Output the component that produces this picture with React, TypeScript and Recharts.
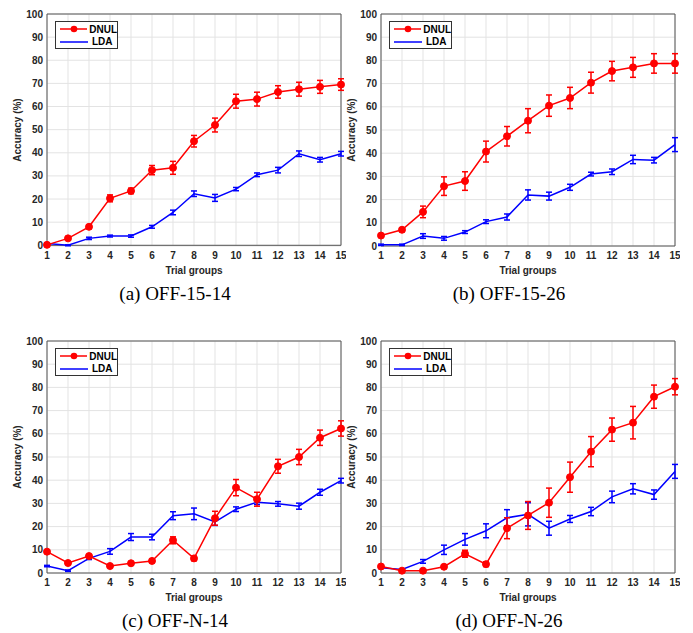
import React from 'react';
import { LineChart, Line, XAxis, YAxis, CartesianGrid, ErrorBar, Legend, ReferenceArea } from 'recharts';

const trials = [1, 2, 3, 4, 5, 6, 7, 8, 9, 10, 11, 12, 13, 14, 15];
const yTicks = [0, 10, 20, 30, 40, 50, 60, 70, 80, 90, 100];

// (a) OFF-15-14
const aDnul = [0.2, 3, 8, 20.3, 23.5, 32.5, 33.5, 45, 52, 62.3, 63.2, 66.3, 67.5, 68.5, 69.5];
const aDnulErr = [0.5, 0.6, 0.8, 1.5, 1.2, 2, 2.8, 2.5, 3, 3, 3, 2.7, 3, 2.8, 2.5];
const aLda = [0.8, 0, 3, 4, 4, 8, 14.2, 22.3, 20.5, 24.3, 30.5, 32.5, 39.6, 37, 39.6];
const aLdaErr = [0.3, 0.2, 0.5, 0.4, 0.5, 0.6, 1, 1.2, 1.5, 0.7, 0.8, 1.2, 1.2, 1, 1];

// (b) OFF-15-26
const bDnul = [4.5, 7, 14.7, 25.8, 28, 40.7, 47.3, 54, 60.5, 63.8, 70.4, 75.4, 77, 78.7, 78.7];
const bDnulErr = [0.7, 0.8, 2.5, 4, 4, 4.5, 4.2, 5.2, 4.6, 4.6, 4.5, 4.2, 4.3, 4.2, 4.2];
const bLda = [0.5, 0.5, 4.3, 3.3, 6, 10.5, 12.5, 22, 21.5, 25.3, 31, 32, 37.3, 37, 43.7];
const bLdaErr = [0.3, 0.3, 1, 0.8, 0.6, 0.8, 1.3, 2.2, 1.7, 1.3, 0.8, 1.2, 1.8, 1.2, 3];

// (c) OFF-N-14
const cDnul = [9.2, 4.3, 7.3, 3, 4.2, 5.2, 14.1, 6.3, 23.6, 36.8, 31.8, 46, 50, 58.3, 62.3];
const cDnulErr = [0.5, 0.5, 0.6, 0.5, 0.5, 0.8, 1.5, 1, 3, 3.5, 3, 3, 3.3, 3.3, 3.3];
const cLda = [3, 1, 6.3, 9.3, 15.5, 15.5, 24.7, 25.5, 22, 27.5, 30.5, 29.8, 28.8, 34.8, 39.8];
const cLdaErr = [0.3, 0.3, 0.5, 1.2, 1.5, 1.2, 1.7, 2.5, 1.5, 1, 1, 1, 1.3, 1.3, 1];

// (d) OFF-N-26
const dDnul = [2.8, 1, 1, 2.7, 8.3, 3.8, 19.3, 24.8, 30.3, 41.3, 52.3, 61.8, 64.8, 76, 80.3];
const dDnulErr = [0.5, 0.4, 0.4, 0.5, 1.5, 1, 4.5, 6, 6.3, 6.5, 6.5, 5, 7, 5, 3.5];
const dLda = [2.3, 1.5, 5, 10, 14.5, 18.2, 23.8, 25.3, 19.3, 23.3, 26.5, 32.8, 36.3, 33.8, 43.8];
const dLdaErr = [0.3, 0.3, 0.8, 2, 2.5, 3, 3.5, 5, 3, 1.5, 1.8, 2.5, 2.2, 2, 3];

const RED = '#ff0000';
const BLUE = '#0000ff';
const AXIS_TEXT = '#262626';
const SANS = '"Liberation Sans", Arial, sans-serif';

function LegendBox() {
    const row = (color: string, label: string, dot: boolean) => (
        <div style={{ display: 'flex', alignItems: 'center', height: 12.5 }}>
            <svg width={31} height={10} style={{ marginLeft: 3 }}>
                <line x1={1} y1={5} x2={29} y2={5} stroke={color} strokeWidth={1.5} />
                {dot && <circle cx={15} cy={5} r={3.3} fill={color} />}
            </svg>
            <span style={{ fontFamily: SANS, fontWeight: 700, fontSize: 10, color: '#000', marginLeft: 2 }}>{label}</span>
        </div>
    );
    return (
        <div style={{ width: 61, height: 25, border: '1px solid #333', background: '#fff', paddingTop: 1 }}>
            {row(RED, 'DNUL', true)}
            {row(BLUE, 'LDA', false)}
        </div>
    );
}

interface PanelProps {
    left: number;
    top: number;
    caption: string;
    dnul: number[];
    dnulErr: number[];
    lda: number[];
    ldaErr: number[];
}

function Panel({ left, top, caption, dnul, dnulErr, lda, ldaErr }: PanelProps) {
    const data = trials.map((t, i) => ({
        trial: t,
        dnul: dnul[i],
        dnulErr: dnulErr[i],
        lda: lda[i],
        ldaErr: ldaErr[i],
    }));
    const tickStyle = { fontFamily: SANS, fontWeight: 700, fontSize: 10, fill: AXIS_TEXT };

    return (
        <div style={{ position: 'absolute', left, top }}>
            <LineChart width={346} height={276} data={data} margin={{ top: 14, right: 5, left: 0, bottom: 0 }}>
                <CartesianGrid stroke="#e3e3e3" strokeWidth={1} />
                <XAxis
                    dataKey="trial"
                    type="number"
                    domain={[1, 15]}
                    ticks={trials}
                    interval={0}
                    height={30}
                    tickLine={false}
                    axisLine={false}
                    tickSize={0}
                    tickMargin={6}
                    tick={tickStyle}
                    label={{ value: 'Trial groups', position: 'insideBottom', offset: 2, style: { ...tickStyle } }}
                />
                <YAxis
                    type="number"
                    domain={[0, 100]}
                    ticks={yTicks}
                    interval={0}
                    width={47}
                    tickLine={false}
                    axisLine={false}
                    tickSize={0}
                    tickMargin={4}
                    tick={tickStyle}
                    label={{ value: 'Accuracy (%)', angle: -90, position: 'insideLeft', offset: 17, style: { ...tickStyle, textAnchor: 'middle' } }}
                />
                <ReferenceArea x1={1} x2={15} y1={0} y2={100} fill="none" stroke="#555" strokeWidth={1} />
                <Legend
                    layout="vertical"
                    align="center"
                    verticalAlign="middle"
                    wrapperStyle={{ position: 'absolute', left: 55, top: 21, width: 'auto' }}
                    content={() => <LegendBox />}
                />
                <Line
                    dataKey="lda"
                    name="LDA"
                    stroke={BLUE}
                    strokeWidth={1.5}
                    dot={false}
                    isAnimationActive={false}
                >
                    <ErrorBar dataKey="ldaErr" direction="y" width={3} stroke={BLUE} strokeWidth={1.5} isAnimationActive={false} />
                </Line>
                <Line
                    dataKey="dnul"
                    name="DNUL"
                    stroke={RED}
                    strokeWidth={1.5}
                    dot={{ r: 3.5, fill: RED, stroke: RED, strokeWidth: 1 }}
                    isAnimationActive={false}
                >
                    <ErrorBar dataKey="dnulErr" direction="y" width={3} stroke={RED} strokeWidth={1.5} isAnimationActive={false} />
                </Line>
            </LineChart>
            <div
                style={{
                    position: 'absolute',
                    left: 0,
                    width: 350,
                    top: 283,
                    textAlign: 'center',
                    fontFamily: '"Liberation Serif", "Times New Roman", serif',
                    fontSize: 19,
                    color: '#000',
                    whiteSpace: 'nowrap',
                }}
            >
                {caption}
            </div>
        </div>
    );
}

export default function App() {
    return (
        <div style={{ position: 'absolute', left: 0, top: 0, width: 693, height: 633, background: '#fff' }}>
            <Panel left={0} top={0} caption="(a) OFF-15-14" dnul={aDnul} dnulErr={aDnulErr} lda={aLda} ldaErr={aLdaErr} />
            <Panel left={334} top={0} caption="(b) OFF-15-26" dnul={bDnul} dnulErr={bDnulErr} lda={bLda} ldaErr={bLdaErr} />
            <Panel left={0} top={327} caption="(c) OFF-N-14" dnul={cDnul} dnulErr={cDnulErr} lda={cLda} ldaErr={cLdaErr} />
            <Panel left={334} top={327} caption="(d) OFF-N-26" dnul={dDnul} dnulErr={dDnulErr} lda={dLda} ldaErr={dLdaErr} />
        </div>
    );
}
